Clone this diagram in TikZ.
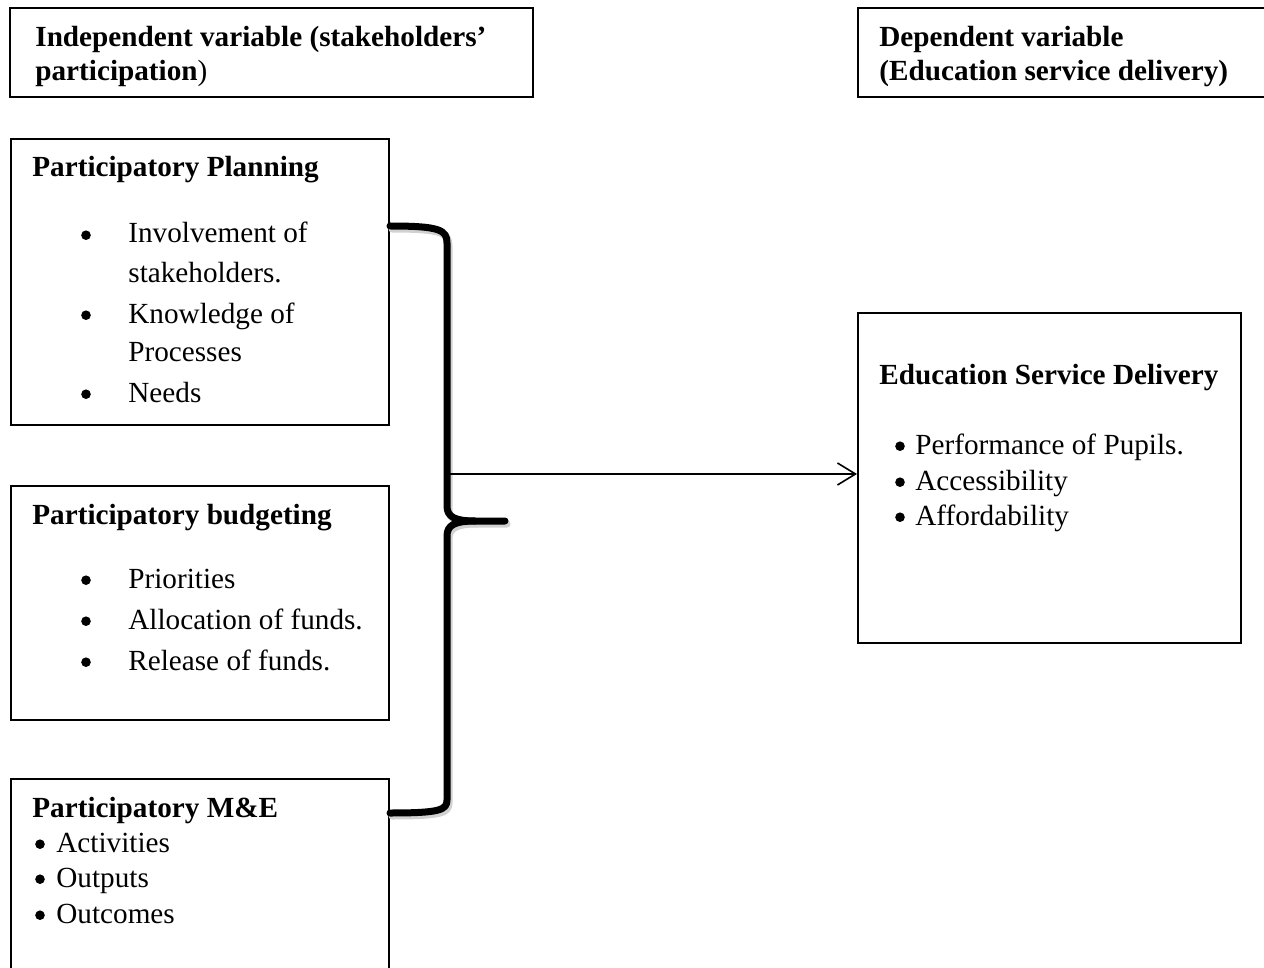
\documentclass[tikz,border=0pt]{standalone}
\usepackage{fontspec}
\setmainfont{Liberation Serif}
\usetikzlibrary{arrows.meta,fit}

\begin{document}
\begin{tikzpicture}[x=0.5pt,y=-0.5pt,
  box/.style={draw=black,line width=1pt,inner sep=0pt},
  txt/.style={anchor=base west,inner sep=0pt,font=\fontsize{14.6}{17}\selectfont},
  hd/.style={txt,font=\fontsize{14.6}{17}\selectfont\bfseries},
  bul/.style={circle,fill=black,inner sep=0pt,minimum size=4.8pt,yshift=3.9pt},
  brace/.style={line width=3.5pt,line cap=round,line join=round},
  arr/.style={line width=0.8pt,-{Straight Barb[length=9pt,width=11pt,line width=0.8pt]}}]

\useasboundingbox (0,0) rectangle (1264,968);
\clip (0,0) rectangle (1264,968);

% heading boxes
\node[box,fit={(10,8) (533,97)}] (indep) {};
\node[hd] (indepA) at (35,47) {Independent variable (stakeholders’};
\node[txt] (indepB) at (35,81) {\textbf{participation})};

\node[box,fit={(858,8) (1280,97)}] (dep) {};
\node[hd] (depA) at (879,47) {Dependent variable};
\node[hd] (depB) at (879,81) {(Education service delivery)};

% participatory planning
\node[box,fit={(11,139) (389,425)}] (plan) {};
\node[hd] (planT) at (32,177) {Participatory Planning};
\node[bul] (planb1) at (86,243) {};
\node[txt] (plan1) at (128,243) {Involvement of};
\node[txt] (plan1b) at (128,283) {stakeholders.};
\node[bul] (planb2) at (86,323) {};
\node[txt] (plan2) at (128,323) {Knowledge of};
\node[txt] (plan2b) at (128,362) {Processes};
\node[bul] (planb3) at (86,402) {};
\node[txt] (plan3) at (128,402) {Needs};

% participatory budgeting
\node[box,fit={(11,486) (389,720)}] (budg) {};
\node[hd] (budgT) at (32,524) {Participatory budgeting};
\node[bul] (budgb1) at (86,588) {};
\node[txt] (budg1) at (128,588) {Priorities};
\node[bul] (budgb2) at (86,629) {};
\node[txt] (budg2) at (128,629) {Allocation of funds.};
\node[bul] (budgb3) at (86,670) {};
\node[txt] (budg3) at (128,670) {Release of funds.};

% participatory M&E
\node[box,fit={(11,779) (389,990)}] (me) {};
\node[hd] (meT) at (32,817) {Participatory M\&E};
\node[bul] (meb1) at (40,852) {};
\node[txt] (me1) at (56,852) {Activities};
\node[bul] (meb2) at (40,887) {};
\node[txt] (me2) at (56,887) {Outputs};
\node[bul] (meb3) at (40,923) {};
\node[txt] (me3) at (56,923) {Outcomes};

% education service delivery
\node[box,fit={(858,313) (1241,643)}] (esd) {};
\node[hd] (esdT) at (879,385) {Education Service Delivery};
\node[bul] (esdb1) at (900,454) {};
\node[txt] (esd1) at (915,454) {Performance of Pupils.};
\node[bul] (esdb2) at (900,490) {};
\node[txt] (esd2) at (915,490) {Accessibility};
\node[bul] (esdb3) at (900,525) {};
\node[txt] (esd3) at (915,525) {Affordability};

% curly brace joining the three boxes, with a faint drop shadow
\coordinate (bracemid) at (447,474);
\begin{scope}[shift={(2,3)}]
  \draw[brace,black!18] (390,226) .. controls (440,226) and (447,230) .. (447,243)
    -- (447,506) .. controls (447,517) and (455,521) .. (475,521) -- (505,521);
  \draw[brace,black!18] (475,521) .. controls (455,521) and (447,525) .. (447,536)
    -- (447,800) .. controls (447,810) and (440,813) .. (390,813);
\end{scope}
\draw[brace] (390,226) .. controls (440,226) and (447,230) .. (447,243)
  -- (447,506) .. controls (447,517) and (455,521) .. (475,521) -- (505,521);
\draw[brace] (475,521) .. controls (455,521) and (447,525) .. (447,536)
  -- (447,800) .. controls (447,810) and (440,813) .. (390,813);

% connector to the dependent variable
\draw[arr] (bracemid) -- (bracemid -| esd.west);
\end{tikzpicture}
\end{document}
